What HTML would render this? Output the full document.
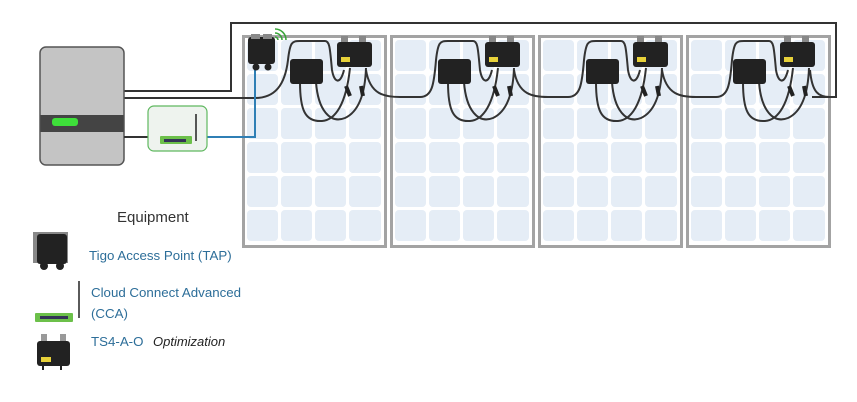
<!DOCTYPE html>
<html><head><meta charset="utf-8"><style>
html,body{margin:0;padding:0;background:#fff;width:857px;height:402px;overflow:hidden}
svg{display:block}
</style></head><body>
<svg width="857" height="402" viewBox="0 0 857 402" xmlns="http://www.w3.org/2000/svg">
<defs>
  <g id="cellrow">
    <rect x="5" y="0" width="31" height="31" rx="4" fill="#e5edf6"/>
    <rect x="39" y="0" width="31" height="31" rx="4" fill="#e5edf6"/>
    <rect x="73" y="0" width="31" height="31" rx="4" fill="#e5edf6"/>
    <rect x="107" y="0" width="32" height="31" rx="4" fill="#e5edf6"/>
  </g>
  <g id="panel">
    <rect x="0" y="0" width="145" height="213" fill="#a3a3a3"/>
    <rect x="3" y="3" width="139" height="207" fill="#ffffff"/>
    <use href="#cellrow" y="5"/>
    <use href="#cellrow" y="39"/>
    <use href="#cellrow" y="73"/>
    <use href="#cellrow" y="107"/>
    <use href="#cellrow" y="141"/>
    <use href="#cellrow" y="175"/>
  </g>
  <g id="opt">
    <path d="M300 82 C300 110 305 122 322 121 C335 120 346 105 350 68" fill="none" stroke="#333" stroke-width="2"/>
    <path d="M316 82 C318 110 330 124 345 118 C358 112 365 95 366 68" fill="none" stroke="#333" stroke-width="2"/>
    <path d="M346 86 l4 10" stroke="#222" stroke-width="4"/>
    <path d="M361 86 l2 10" stroke="#222" stroke-width="4"/>
    <rect x="290" y="59" width="33" height="25" rx="3" fill="#222"/>
    <rect x="341" y="36" width="7" height="7" fill="#888"/>
    <rect x="359" y="36" width="7" height="7" fill="#888"/>
    <rect x="337" y="42" width="35" height="25" rx="3" fill="#222"/>
    <rect x="341" y="57" width="9" height="5" fill="#e8d23a"/>
  </g>
</defs>

<use href="#panel" x="242" y="35"/>
<use href="#panel" x="390" y="35"/>
<use href="#panel" x="538" y="35"/>
<use href="#panel" x="686" y="35"/>

<path d="M124 91 H231 V23 H836 V97 H812" fill="none" stroke="#333" stroke-width="2"/>

<path d="M124 98 H255 C275 98 285 85 288 60 C290 42 292 41 300 41 H325 C330 41 330 50 332 70 C334 82 340 86 344 70" fill="none" stroke="#333" stroke-width="2"/>
<path d="M366 70 C370 95 385 97 400 97 H420 C432 97 434 85 436 60 C438 42 440 41 448 41 H473 C478 41 478 50 480 70 C482 82 488 86 492 70" fill="none" stroke="#333" stroke-width="2"/>
<path d="M514 70 C518 95 533 97 548 97 H568 C580 97 582 85 584 60 C586 42 588 41 596 41 H621 C626 41 626 50 628 70 C630 82 636 86 640 70" fill="none" stroke="#333" stroke-width="2"/>
<path d="M662 70 C666 95 681 97 696 97 H716 C728 97 730 85 732 60 C734 42 736 41 744 41 H769 C774 41 774 50 776 70 C778 82 784 86 788 70" fill="none" stroke="#333" stroke-width="2"/>
<path d="M810 70 C812 92 818 97 830 97" fill="none" stroke="#333" stroke-width="2"/>

<use href="#opt" x="0" y="0"/>
<use href="#opt" x="148" y="0"/>
<use href="#opt" x="296" y="0"/>
<use href="#opt" x="443" y="0"/>

<rect x="40" y="47" width="84" height="118" rx="6" fill="#c4c4c4" stroke="#555" stroke-width="1.5"/>
<rect x="40.5" y="115" width="83" height="17" fill="#444"/>
<rect x="52" y="118" width="26" height="8" rx="3" fill="#3ee03a"/>

<path d="M124 137 H149" stroke="#333" stroke-width="2"/>
<path d="M207 137 H255 V68" fill="none" stroke="#2f7fb5" stroke-width="2"/>
<rect x="148" y="106" width="59" height="45" rx="6" fill="#eef3ee" stroke="#5fb85f" stroke-width="1.2"/>
<rect x="160" y="136" width="32" height="8" rx="1" fill="#6cc04a"/>
<rect x="164" y="139" width="22" height="3" fill="#335"/>
<line x1="196" y1="114" x2="196" y2="141" stroke="#222" stroke-width="1.5"/>

<rect x="248" y="37" width="27" height="27" rx="3" fill="#222"/>
<rect x="251" y="34" width="9" height="5" fill="#888"/>
<rect x="263" y="34" width="9" height="5" fill="#888"/>
<circle cx="256" cy="67" r="3.5" fill="#222"/>
<circle cx="268" cy="67" r="3.5" fill="#222"/>
<path d="M275 37 a3 3 0 0 1 3 3 M275 33 a7 7 0 0 1 7 7 M275 29 a11 11 0 0 1 11 11" fill="none" stroke="#3aa53a" stroke-width="1.6"/>

<text x="117" y="222" font-family="Liberation Sans, sans-serif" font-size="15" fill="#333">Equipment</text>
<rect x="33" y="232" width="35" height="31" fill="#888"/>
<rect x="37" y="234" width="30" height="30" rx="3" fill="#222"/>
<circle cx="44" cy="266" r="4" fill="#222"/>
<circle cx="60" cy="266" r="4" fill="#222"/>
<text x="89" y="260" font-family="Liberation Sans, sans-serif" font-size="13.3" fill="#2d6e99">Tigo Access Point (TAP)</text>

<rect x="35" y="313" width="38" height="9" rx="1" fill="#6cc04a"/>
<rect x="40" y="316" width="28" height="3" fill="#335"/>
<line x1="79" y1="281" x2="79" y2="318" stroke="#222" stroke-width="1.5"/>
<text x="91" y="297" font-family="Liberation Sans, sans-serif" font-size="13.3" fill="#2d6e99">Cloud Connect Advanced</text>
<text x="91" y="318" font-family="Liberation Sans, sans-serif" font-size="13.3" fill="#2d6e99">(CCA)</text>

<rect x="41" y="334" width="6" height="8" fill="#999"/>
<rect x="60" y="334" width="6" height="8" fill="#999"/>
<rect x="37" y="341" width="33" height="25" rx="3" fill="#222"/>
<rect x="41" y="357" width="10" height="5" fill="#e8d23a"/>
<rect x="42" y="365" width="2" height="5" fill="#222"/>
<rect x="60" y="365" width="2" height="5" fill="#222"/>
<text x="91" y="346" font-family="Liberation Sans, sans-serif" font-size="13.3" fill="#2d6e99">TS4-A-O</text>
<text x="153" y="346" font-family="Liberation Sans, sans-serif" font-size="13" font-style="italic" fill="#222">Optimization</text>
</svg>
</body></html>
